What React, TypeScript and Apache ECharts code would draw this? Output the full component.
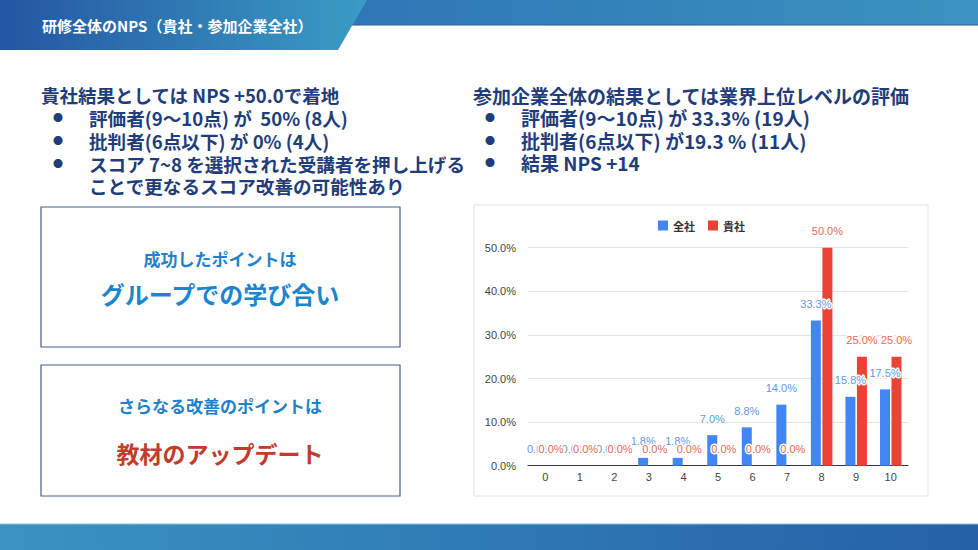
import React, { useEffect, useRef } from 'react';
import * as echarts from 'echarts';

// NPS score buckets and the share of respondents in each (percent)
const scores = ['0', '1', '2', '3', '4', '5', '6', '7', '8', '9', '10'];
const allCompanies = [0, 0, 0, 1.8, 1.8, 7.0, 8.8, 14.0, 33.3, 15.8, 17.5];
const yourCompany = [0, 0, 0, 0, 0, 0, 0, 0, 50.0, 25.0, 25.0];
const seriesNames = ['全社', '貴社'];

const title = '研修全体のNPS（貴社・参加企業全社）';
const leftHeading = '貴社結果としては NPS +50.0で着地';
const leftBullets = [
  '評価者(9〜10点) が  50% (8人)',
  '批判者(6点以下) が 0% (4人)',
  'スコア 7~8 を選択された受講者を押し上げる',
];
const leftBulletCont = 'ことで更なるスコア改善の可能性あり';
const rightHeading = '参加企業全体の結果としては業界上位レベルの評価';
const rightBullets = ['評価者(9〜10点) が 33.3% (19人)', '批判者(6点以下) が19.3 % (11人)', '結果 NPS +14'];
const box1 = ['成功したポイントは', 'グループでの学び合い'];
const box2 = ['さらなる改善のポイントは', '教材のアップデート'];

const JP = '"Noto Sans CJK JP", "Noto Sans", sans-serif';
const NAVY = '#1f3d7a';

const grad = (x2: number, y2: number, stops: [number, string][]) => ({
  type: 'linear',
  x: 0,
  y: 0,
  x2,
  y2,
  colorStops: stops.map(([offset, color]) => ({ offset, color })),
});

const txt = (x: number, y: number, text: string, size: number, fill: string, align = 'left') => ({
  type: 'text',
  x,
  y,
  style: { text, fill, fontSize: size, fontWeight: 'bold', fontFamily: JP, align, verticalAlign: 'middle' },
});

const App: React.FC = () => {
  const chartRef = useRef<HTMLDivElement>(null);

  useEffect(() => {
    if (!chartRef.current) return;
    const chart = echarts.init(chartRef.current, null, { renderer: 'svg' });

    const leftLinesY = [117, 140, 163];
    const rightLinesY = [117, 140, 162];

    const graphic: any[] = [
      // header
      { type: 'rect', shape: { x: 0, y: 0, width: 978, height: 25 }, style: { fill: grad(1, 0, [[0, '#2a66b2'], [1, '#3a93bf']]) } },
      { type: 'line', shape: { x1: 340, y1: 25, x2: 978, y2: 25 }, style: { stroke: '#2a5d9e', lineWidth: 1 } },
      {
        type: 'polygon',
        shape: { points: [[0, 0], [367, 0], [338, 50], [0, 50]] },
        style: { fill: grad(1, 0, [[0, '#2556a3'], [1, '#3a9cc4']]) },
      },
      { type: 'text', x: 42, y: 25, style: { text: title, fill: '#ffffff', fontSize: 15, fontWeight: 'bold', fontFamily: JP, verticalAlign: 'middle' } },
      // footer
      { type: 'rect', shape: { x: 0, y: 524, width: 978, height: 26 }, style: { fill: grad(1, 0, [[0, '#3a93c2'], [1, '#2560a8']]) } },
      { type: 'line', shape: { x1: 0, y1: 524, x2: 978, y2: 524 }, style: { stroke: '#8ec3d8', lineWidth: 1 } },
      // left column text
      txt(41, 95, leftHeading, 18.5, NAVY),
      ...leftBullets.map((t, i) => txt(58, leftLinesY[i], '●', 10, NAVY, 'center')),
      ...leftBullets.map((t, i) => txt(89, leftLinesY[i], t, 18.6, NAVY)),
      txt(89, 185, leftBulletCont, 18.6, NAVY),
      // right column text
      txt(473, 95, rightHeading, 19, NAVY),
      ...rightBullets.map((t, i) => txt(490, rightLinesY[i], '●', 10, NAVY, 'center')),
      ...rightBullets.map((t, i) => txt(521, rightLinesY[i], t, 19, NAVY)),
      // boxes
      { type: 'rect', shape: { x: 41, y: 207, width: 359, height: 140 }, style: { fill: '#fff', stroke: '#44608e', lineWidth: 1.2 } },
      txt(220, 258, box1[0], 17, '#1f82c8', 'center'),
      txt(220, 293, box1[1], 24, '#1a86d0', 'center'),
      { type: 'rect', shape: { x: 41, y: 365, width: 359, height: 131 }, style: { fill: '#fff', stroke: '#44608e', lineWidth: 1.2 } },
      txt(220, 405, box2[0], 17, '#1f82c8', 'center'),
      txt(220, 453, box2[1], 23, '#c23b2c', 'center'),
      // chart panel
      { type: 'rect', z: -10, shape: { x: 474, y: 205, width: 454, height: 291 }, style: { fill: '#fff', stroke: '#e2e2e2', lineWidth: 1 } },
    ];

    const labelStyle = (color: string) => ({
      show: true,
      position: 'top',
      distance: 11,
      fontSize: 11,
      color,
      fontFamily: '"Liberation Sans", Arial, sans-serif',
      textBorderColor: '#ffffff',
      textBorderWidth: 3,
      formatter: (p: any) => Number(p.value).toFixed(1) + '%',
    });

    const option = {
      animation: false,
      backgroundColor: '#ffffff',
      textStyle: { fontFamily: '"Liberation Sans", "Noto Sans CJK JP", sans-serif' },
      graphic,
      legend: {
        left: 658,
        top: 220,
        padding: 0,
        itemGap: 13,
        itemWidth: 10,
        itemHeight: 10,
        icon: 'rect',
        textStyle: { fontSize: 11, color: '#333', fontFamily: JP, fontWeight: 'bold' },
        data: seriesNames,
      },
      grid: { left: 528, right: 70, top: 247.7, bottom: 84.3 },
      xAxis: {
        type: 'category',
        data: scores,
        axisTick: { show: false },
        axisLine: { lineStyle: { color: '#333', width: 1 } },
        axisLabel: { fontSize: 11, color: '#444', margin: 6 },
      },
      yAxis: {
        type: 'value',
        min: 0,
        max: 50,
        interval: 10,
        axisLine: { show: false },
        axisTick: { show: false },
        splitLine: { lineStyle: { color: '#e4e4e4' } },
        axisLabel: { fontSize: 11, color: '#444', margin: 12, formatter: (v: number) => v.toFixed(1) + '%' },
      },
      series: [
        {
          name: seriesNames[0],
          type: 'bar',
          data: allCompanies,
          barWidth: 10,
          barGap: '15%',
          itemStyle: { color: '#4285f4' },
          label: labelStyle('#5f98ec'),
        },
        {
          name: seriesNames[1],
          type: 'bar',
          data: yourCompany,
          barWidth: 10,
          itemStyle: { color: '#ea4335' },
          label: labelStyle('#e6675a'),
        },
      ],
    };

    chart.setOption(option as any);
    return () => {
      chart.dispose();
    };
  }, []);

  return <div ref={chartRef} style={{ position: 'fixed', left: 0, top: 0, width: 978, height: 550 }} />;
};

export default App;
